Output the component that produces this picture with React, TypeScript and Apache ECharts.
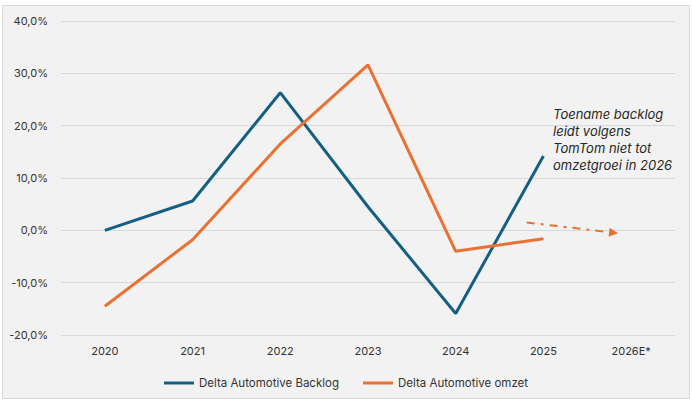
import React, { useEffect, useRef } from "react";
import * as echarts from "echarts";

const years = ["2020", "2021", "2022", "2023", "2024", "2025", "2026E*"];
const backlog = [0.0, 5.6, 26.3, 4.5, -15.9, 14.2, null];
const omzet = [-14.5, -1.8, 16.5, 31.6, -4.0, -1.6, null];
const arrowFrom = [4.81, 1.5];
const arrowTo = [5.8, -0.45];
const annotation = ["Toename backlog", "leidt volgens", "TomTom niet tot", "omzetgroei in 2026"];
const seriesNames = ["Delta Automotive Backlog", "Delta Automotive omzet"];

const BLUE = "#156082";
const ORANGE = "#E97132";
const FONT = "Inter, 'Noto Sans', sans-serif";

export default function App() {
  const ref = useRef<HTMLDivElement>(null);
  useEffect(() => {
    if (!ref.current) return;
    const chart = echarts.init(ref.current, undefined, { renderer: "svg" });
    chart.setOption({
      animation: false,
      backgroundColor: "#ffffff",
      textStyle: { fontFamily: FONT },
      graphic: [
        {
          type: "rect",
          z: -10,
          silent: true,
          shape: { x: 2.5, y: 5.5, width: 687, height: 393 },
          style: { fill: "#F2F2F2", stroke: "#D9D9D9", lineWidth: 1 },
        },
        {
          type: "text",
          left: 553,
          top: 105,
          z: 10,
          style: {
            text: annotation.join("\n"),
            font: `italic 13px ${FONT}`,
            fill: "#262626",
            lineHeight: 17,
          },
        },
      ],
      grid: { left: 61, right: 17, top: 21, bottom: 67, containLabel: false },
      legend: {
        data: seriesNames,
        left: "center",
        top: 372,
        icon: "rect",
        itemWidth: 30,
        itemHeight: 3,
        itemGap: 24,
        textStyle: { fontSize: 11.5, color: "#333333", fontFamily: FONT },
      },
      xAxis: [
        {
          type: "category",
          data: years,
          boundaryGap: true,
          axisLine: { show: false },
          axisTick: { show: false },
          axisLabel: { color: "#333333", fontSize: 11, margin: 10, fontFamily: FONT },
        },
        {
          type: "value",
          min: -0.5,
          max: 6.5,
          show: false,
        },
      ],
      yAxis: {
        type: "value",
        min: -20,
        max: 40,
        interval: 10,
        axisLine: { show: false },
        axisTick: { show: false },
        splitLine: { lineStyle: { color: "#D9D9D9", width: 1 } },
        axisLabel: {
          color: "#333333",
          fontSize: 11,
          margin: 13,
          fontFamily: FONT,
          formatter: (v: number) => v.toFixed(1).replace(".", ",") + "%",
        },
      },
      series: [
        {
          name: seriesNames[0],
          type: "line",
          data: backlog,
          symbol: "none",
          lineStyle: { color: BLUE, width: 3 },
          itemStyle: { color: BLUE },
          z: 3,
        },
        {
          name: seriesNames[1],
          type: "line",
          data: omzet,
          symbol: "none",
          lineStyle: { color: ORANGE, width: 3 },
          itemStyle: { color: ORANGE },
          z: 4,
        },
        {
          type: "lines",
          coordinateSystem: "cartesian2d",
          xAxisIndex: 1,
          yAxisIndex: 0,
          symbol: ["none", "triangle"],
          symbolSize: 9,
          lineStyle: { color: ORANGE, width: 2, type: [8, 6, 3, 6], opacity: 1 },
          data: [{ coords: [arrowFrom, arrowTo] }],
          z: 5,
        },
      ],
    });
    return () => chart.dispose();
  }, []);
  return (
    <div
      ref={ref}
      style={{ position: "fixed", left: 0, top: 0, width: 692, height: 402 }}
    />
  );
}
